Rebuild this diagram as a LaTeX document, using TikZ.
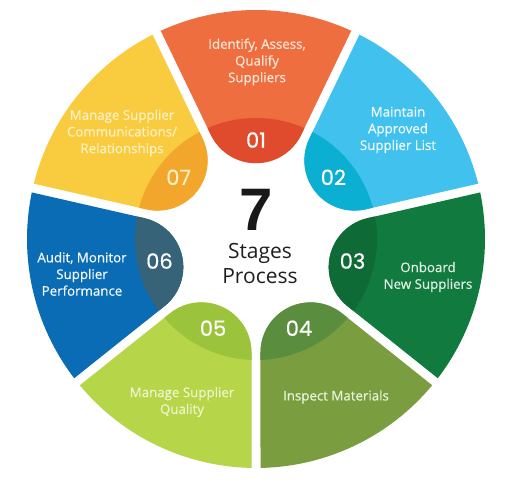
\documentclass[tikz,border=0pt]{standalone}
\usepackage{fontspec}
\setmainfont{Open Sans}
\newfontfamily\lblfont{Open Sans}[FakeBold=0.6]
\newfontfamily\numfont{Poppins}[FakeBold=0.5]
\newfontfamily\sevenfont{Liberation Sans}
\usetikzlibrary{calc}
\definecolor{cA}{HTML}{EE6E3F}\definecolor{cAd}{HTML}{E04B2D}\definecolor{tA}{HTML}{FCE6D8}
\definecolor{cB}{HTML}{41C1ED}\definecolor{cBd}{HTML}{0AAFD2}\definecolor{tB}{HTML}{F2FAFE}
\definecolor{cC}{HTML}{117A3E}\definecolor{cCd}{HTML}{0F6B36}\definecolor{tC}{HTML}{E2EFE4}
\definecolor{cD}{HTML}{7A9E3F}\definecolor{cDd}{HTML}{5B8D3E}\definecolor{tD}{HTML}{E9F0DC}
\definecolor{cE}{HTML}{B7D548}\definecolor{cEd}{HTML}{9BC43C}\definecolor{tE}{HTML}{EEF4CC}
\definecolor{cF}{HTML}{0A6CB5}\definecolor{cFd}{HTML}{366378}\definecolor{tF}{HTML}{F4F8FC}
\definecolor{cG}{HTML}{F9CC40}\definecolor{cGd}{HTML}{F2A62C}\definecolor{tG}{HTML}{FDF0C4}
\def\mysegpath{(24.588:229) arc[start angle=24.588, end angle=-24.588, radius=229] -- (104.23,-45.20) arc[start angle=244.286, end angle=115.714, radius=50.17] -- cycle}
\tikzset{
  numlabel/.style={font=\numfont\fontsize{21}{21}\selectfont, text=white, inner sep=0pt},
  steplabel/.style={font=\lblfont\fontsize{13.3}{16.7}\selectfont, align=center, inner sep=0pt},
}
\begin{document}
\begin{tikzpicture}[x=1pt,y=1pt]
\useasboundingbox[fill=white] (-256,-247) rectangle (258,239);
\foreach \a/\m/\d [count=\i] in {90/cA/cAd, 38.571/cB/cBd, -12.857/cC/cCd, -64.286/cD/cDd, -115.714/cE/cEd, -167.143/cF/cFd, -218.571/cG/cGd}{
  \begin{scope}[rotate=\a]
    \fill[\m] \mysegpath;
    \begin{scope}
      \clip \mysegpath;
      \fill[\d] (0,0) circle[radius=121];
    \end{scope}
  \end{scope}
}
\node[numlabel] (n1) at (90:99) {01};
\node[numlabel] (n2) at (38.571:99) {02};
\node[numlabel] (n3) at (-12.857:99) {03};
\node[numlabel] (n4) at (-64.286:99) {04};
\node[numlabel] (n5) at (-115.714:99) {05};
\node[numlabel] (n6) at (-167.143:99) {06};
\node[numlabel, text=tG] (n7) at (-218.571:99) {07};
\node[steplabel, text=tA] (l1) at (1,177) {Identify, Assess,\\Qualify\\Suppliers};
\node[steplabel, text=tB] (l2) at (142,109) {Maintain\\Approved\\Supplier List};
\node[steplabel, text=tC] (l3) at (172,-38) {Onboard\\New Suppliers};
\node[steplabel, text=tD] (l4) at (80,-158) {Inspect Materials};
\node[steplabel, text=tE] (l5) at (-74,-163) {Manage Supplier\\Quality};
\node[steplabel, text=tF] (l6) at (-174,-35) {Audit, Monitor\\Supplier\\Performance};
\node[steplabel, text=tG] (l7) at (-134,106) {Manage Supplier\\Communications/\\Relationships};
\node[font=\sevenfont\bfseries\fontsize{60}{60}\selectfont, text=black!90, inner sep=0pt] (seven) at (0,29) {7};
\node[font=\fontsize{21}{25}\selectfont, align=center, text=black!88, inner sep=0pt] (stages) at (4,-25) {Stages\\Process};
\end{tikzpicture}
\end{document}
